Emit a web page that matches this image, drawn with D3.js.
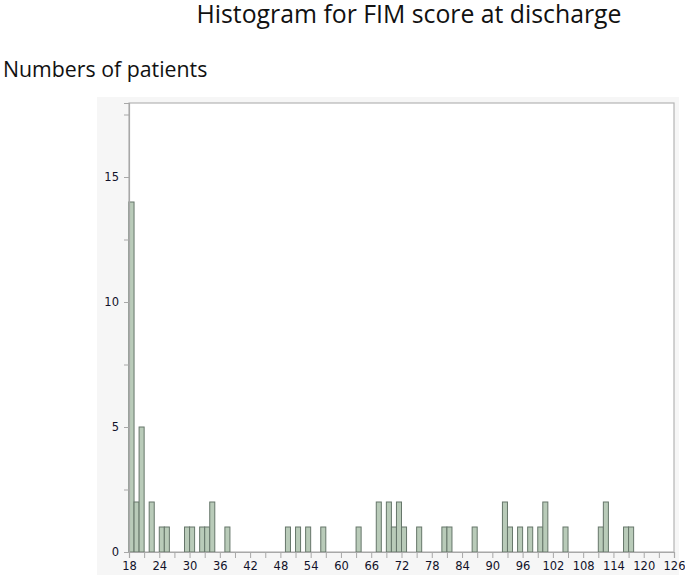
<!DOCTYPE html>
<html lang="en">
<head>
<meta charset="UTF-8">
<title>Histogram for FIM score at discharge</title>
<style>
  body { margin: 0; background: #fff; }
  svg { display: block; }
</style>
</head>
<body>
<script src="https://d3js.org/d3.v7.min.js"></script>
<script>

  // histogram data: left edge of each 1-point bin and its count
  var binStart = [18, 19, 20, 22, 24, 25, 29, 30, 32, 33, 34, 37, 49, 51, 53, 56, 63, 67, 69, 70,
                  71, 72, 75, 80, 81, 86, 92, 93, 95, 97, 99, 100, 104, 111, 112, 116, 117];
  var counts   = [14, 2, 5, 2, 1, 1, 1, 1, 1, 1, 2, 1, 1, 1, 1, 1, 1, 2, 2, 1,
                  2, 1, 1, 1, 1, 1, 2, 1, 1, 1, 1, 2, 1, 1, 2, 1, 1];
  var binWidth = 1;

  // axis ticks
  var xTicks = d3.range(18, 127, 3);
  var xLabels = d3.range(18, 127, 6);
  var yTicks = [0, 2.5, 5, 7.5, 10, 12.5, 15, 17.5];
  var yLabels = [0, 5, 10, 15];

  var data = binStart.map(function(d, i) { return {x0: d, x1: d + binWidth, n: counts[i]}; });

  var W = 685, H = 577;
  var svg = d3.select("body").append("svg")
      .attr("width", W)
      .attr("height", H);

  // plot frame
  var plotLeft = 129, plotRight = 674, plotTop = 103, plotBottom = 552;

  var x = d3.scaleLinear().domain([18, 126]).range([plotLeft, plotRight]);
  var y = d3.scaleLinear().domain([0, 17.96]).range([plotBottom, plotTop]);

  // grey panel behind the plot
  svg.append("rect")
      .attr("x", 97).attr("y", 97)
      .attr("width", 582).attr("height", 478)
      .attr("fill", "#f6f6f6");

  svg.append("rect")
      .attr("x", plotLeft).attr("y", plotTop)
      .attr("width", plotRight - plotLeft).attr("height", plotBottom - plotTop)
      .attr("fill", "#fff")
      .attr("stroke", "#b4b4b4")
      .attr("stroke-width", 1.2);

  // bars
  svg.selectAll(".bar")
      .data(data)
      .enter().append("rect")
      .attr("class", "bar")
      .attr("x", function(d) { return x(d.x0); })
      .attr("width", function(d) { return x(d.x1) - x(d.x0); })
      .attr("y", function(d) { return y(d.n); })
      .attr("height", function(d) { return y(0) - y(d.n); })
      .attr("fill", "#b9cbb9")
      .attr("stroke", "#66766a")
      .attr("stroke-width", 1);

  // x axis
  var xAxis = svg.append("g")
      .attr("transform", "translate(0," + plotBottom + ")")
      .call(d3.axisBottom(x).tickValues(xTicks).tickSize(6)
        .tickFormat(function(d) { return xLabels.indexOf(d) >= 0 ? d : ""; }));
  xAxis.select(".domain").attr("stroke", "#a8a8a8").attr("stroke-width", 1.2);
  xAxis.selectAll(".tick line").attr("stroke", "#a8a8a8");
  xAxis.selectAll(".tick text")
      .attr("y", 10).attr("dy", "0.71em")
      .style("font-family", "DejaVu Sans, Verdana, sans-serif")
      .style("font-size", "11.5px")
      .attr("fill", "#12122a");

  // y axis
  var yAxis = svg.append("g")
      .attr("transform", "translate(" + plotLeft + ",0)")
      .call(d3.axisLeft(y).tickValues(yTicks).tickSize(5)
        .tickFormat(function(d) { return yLabels.indexOf(d) >= 0 ? d : ""; }));
  yAxis.select(".domain").attr("stroke", "#a8a8a8").attr("stroke-width", 1.2);
  yAxis.selectAll(".tick line").attr("stroke", "#a8a8a8");
  yAxis.selectAll(".tick text")
      .attr("x", -10)
      .style("font-family", "DejaVu Sans, Verdana, sans-serif")
      .style("font-size", "11.5px")
      .attr("fill", "#12122a");

  // titles
  svg.append("text")
      .attr("x", 409).attr("y", 23)
      .attr("text-anchor", "middle")
      .style("font-family", "Open Sans, sans-serif")
      .style("font-size", "24.8px")
      .attr("fill", "#111")
      .text("Histogram for FIM score at discharge");

  svg.append("text")
      .attr("x", 3).attr("y", 77)
      .style("font-family", "Open Sans, sans-serif")
      .style("font-size", "21.3px")
      .attr("fill", "#111")
      .text("Numbers of patients");

</script>
</body>
</html>
